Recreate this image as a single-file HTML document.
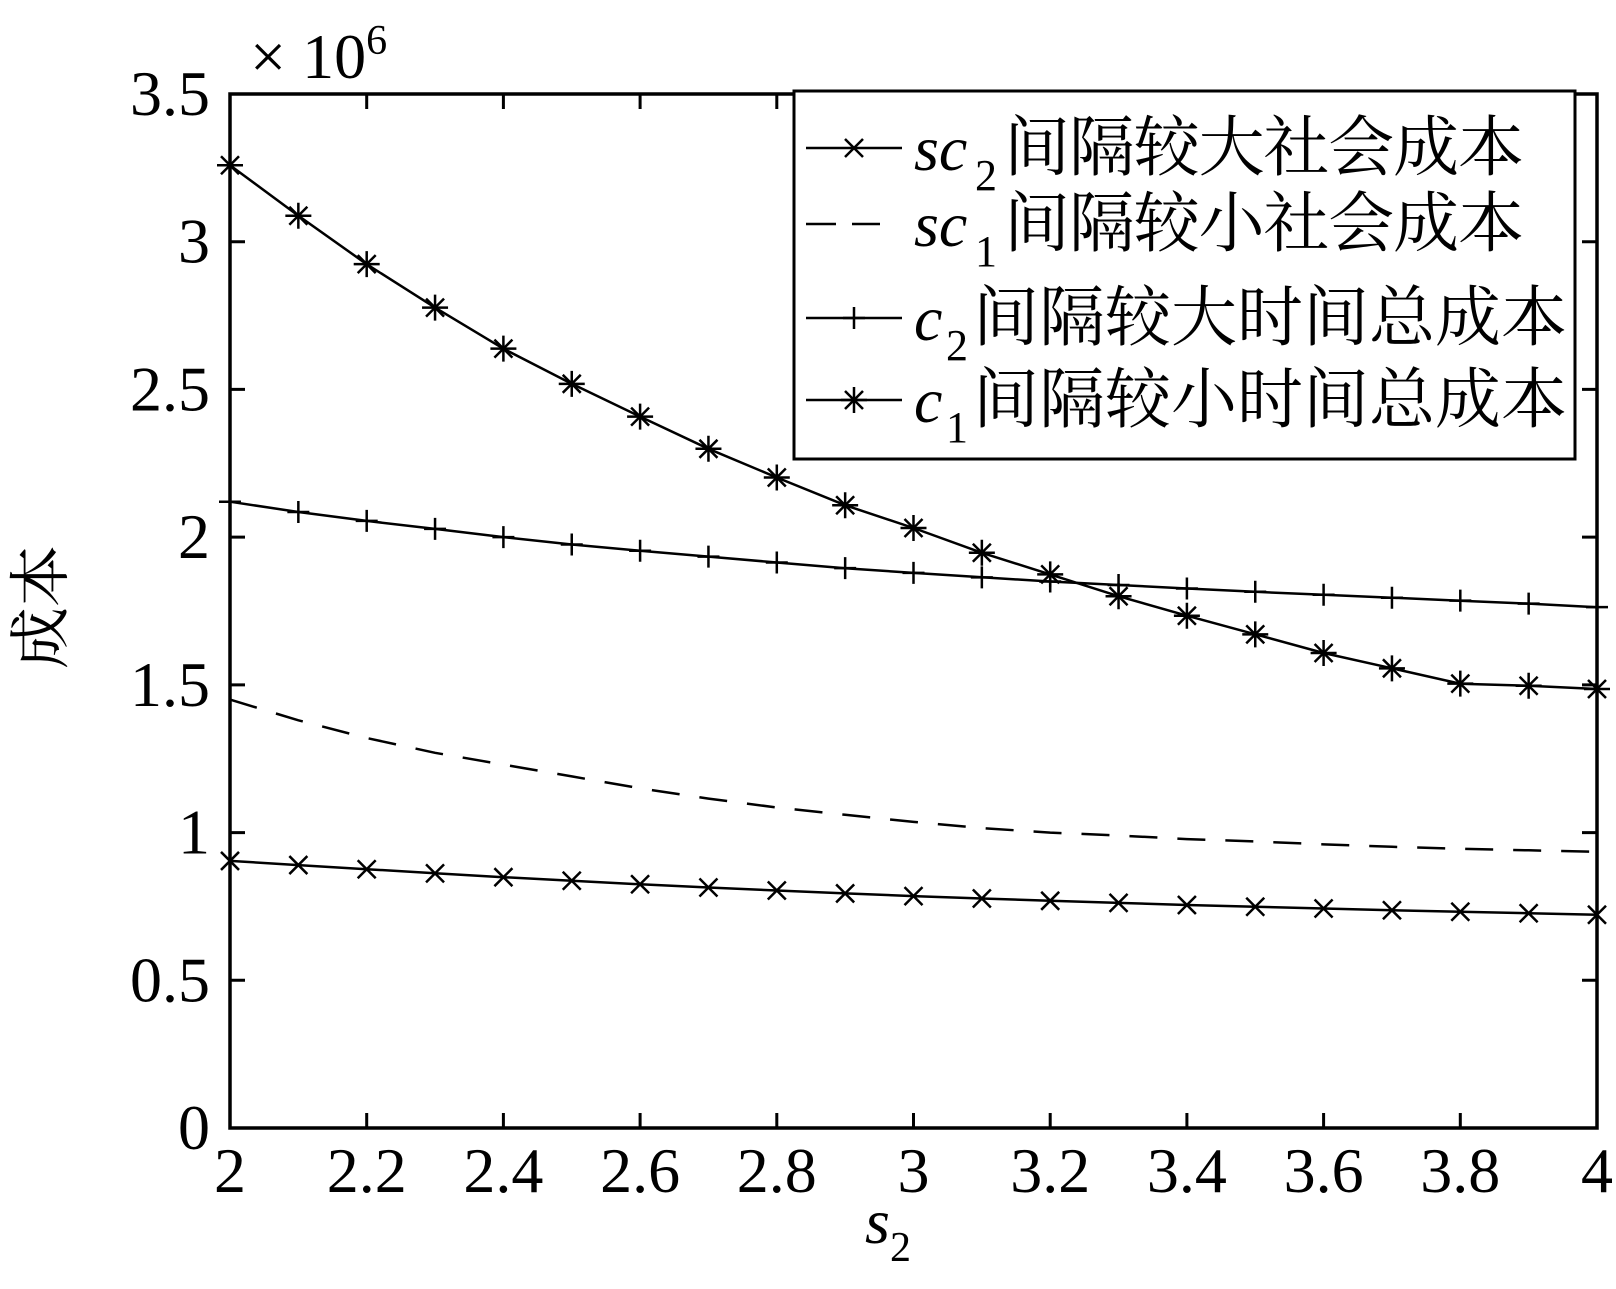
<!DOCTYPE html>
<html><head><meta charset="utf-8"><style>
html,body{margin:0;padding:0;background:#fff;width:1616px;height:1289px;overflow:hidden}
svg{display:block}
</style></head><body>
<svg id="s" width="1616" height="1289" xmlns="http://www.w3.org/2000/svg" font-family="Liberation Serif, serif"></svg>
<script>
const L=230,R=1597,T=94,B=1128;
const X=v=>L+(v-2)/2*(R-L), Y=v=>B-v/3.5*(B-T);
const F='font-family="Liberation Serif, serif"';
const C='font-family="Noto Serif CJK SC, Noto Sans CJK SC, serif"';
let h='';
const c1=[3.259,3.088,2.924,2.777,2.638,2.519,2.408,2.299,2.202,2.108,2.031,1.947,1.874,1.800,1.734,1.671,1.608,1.556,1.504,1.497,1.486];
const c2=[2.12,2.085,2.055,2.028,2.0,1.975,1.954,1.934,1.914,1.895,1.879,1.864,1.85,1.838,1.826,1.815,1.805,1.795,1.785,1.775,1.763];
const sc1=[1.45,1.38,1.32,1.27,1.23,1.19,1.15,1.115,1.085,1.06,1.036,1.015,1.0,0.99,0.978,0.97,0.96,0.952,0.945,0.94,0.935];
const sc2=[0.904,0.89,0.876,0.862,0.849,0.837,0.825,0.814,0.804,0.794,0.785,0.777,0.769,0.762,0.755,0.749,0.743,0.737,0.732,0.727,0.722];
function pts(a){return a.map((v,i)=>X(2+i*0.1).toFixed(1)+','+Y(v).toFixed(1)).join(' ')}
function mk(t,x,y){const s=9;let o='';
 if(t=='x'||t=='*')o+=`<path d="M${x-s} ${y-s}L${x+s} ${y+s}M${x-s} ${y+s}L${x+s} ${y-s}"/>`;
 const k=t=='*'?13:11;
 if(t=='+'||t=='*')o+=`<path d="M${x-k} ${y}H${x+k}M${x} ${y-k}V${y+k}"/>`;
 return o;}
h+='<g stroke="#000" stroke-width="3">';
for(let i=0;i<=10;i++){const x=X(2+i*0.2);h+=`<path d="M${x} ${B}v-15M${x} ${T}v15"/>`;}
for(let i=0;i<=7;i++){const y=Y(i*0.5);h+=`<path d="M${L} ${y}h15M${R} ${y}h-15"/>`;}
h+='</g>';
h+='<g fill="none" stroke="#000" stroke-width="2.5">';
h+=`<polyline points="${pts(c1)}"/><polyline points="${pts(c2)}"/><polyline points="${pts(sc2)}"/>`;
h+=`<polyline points="${pts(sc1)}" stroke-dasharray="28,20"/>`;
c1.forEach((v,i)=>h+=mk('*',X(2+i*0.1),Y(v)));
c2.forEach((v,i)=>h+=mk('+',X(2+i*0.1),Y(v)));
sc2.forEach((v,i)=>h+=mk('x',X(2+i*0.1),Y(v)));
h+='</g>';
h+=`<rect x="${L}" y="${T}" width="${R-L}" height="${B-T}" fill="none" stroke="#000" stroke-width="3.5"/>`;
h+='<rect x="794" y="91" width="781" height="368" fill="#fff" stroke="#000" stroke-width="3"/>';
const rows=[['x','sc','2','间隔较大社会成本',148],['d','sc','1','间隔较小社会成本',224],['+','c','2','间隔较大时间总成本',318],['*','c','1','间隔较小时间总成本',400]];
h+='<g fill="none" stroke="#000" stroke-width="2.5">';
rows.forEach(r=>{const y=r[4];
 if(r[0]=='d')h+=`<path d="M806 ${y}h30M852 ${y}h28"/>`;else h+=`<path d="M806 ${y}H902"/>`+mk(r[0],854,y);});
h+='</g>';
rows.forEach(r=>{const y=r[4]+22;
 const sc=r[1]=='sc';
 const sx=sc?975:946, cx=sc?1004:973, cw=sc?520:594;
 h+=`<text x="914" y="${y}" font-size="64" font-style="italic" ${F}>${r[1]}</text>`;
 h+=`<text x="${sx}" y="${y+20}" font-size="44" ${F}>${r[2]}</text>`;
 h+=`<text x="${cx}" y="${y}" font-size="66" textLength="${cw}" lengthAdjust="spacing" ${C}>${r[3]}</text>`;});
for(let i=0;i<=10;i++){const v=2+i*0.2;const s=(Math.round(v*10)/10).toString();h+=`<text x="${X(v)}" y="1192" font-size="64" text-anchor="middle" ${F}>${s}</text>`;}
for(let i=0;i<=7;i++){const v=i*0.5;h+=`<text x="210" y="${Y(v)+21}" font-size="64" text-anchor="end" ${F}>${v}</text>`;}
h+=`<text x="250" y="78" font-size="64" ${F}>× 10<tspan font-size="42" dy="-24">6</tspan></text>`;
h+=`<text x="888" y="1243" font-size="64" font-style="italic" text-anchor="middle" ${F}>s<tspan font-size="42" font-style="normal" dy="18">2</tspan></text>`;
h+=`<text transform="translate(62,607) rotate(-90)" font-size="62" text-anchor="middle" ${C}>成本</text>`;
document.getElementById('s').innerHTML=h;
</script>
</body></html>
